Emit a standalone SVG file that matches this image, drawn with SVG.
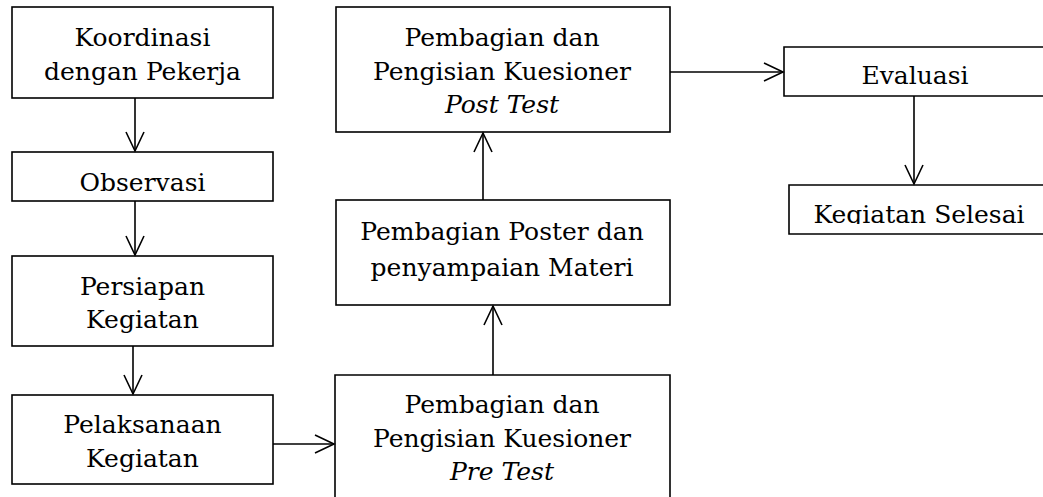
<svg xmlns="http://www.w3.org/2000/svg" width="1043" height="497" viewBox="0 0 1043 497">
<style>
.b{fill:#fff;stroke:#000;stroke-width:1.6}
.t{font-family:"DejaVu Serif","Liberation Serif",serif;font-size:25px;fill:#000;text-anchor:middle}
.i{font-style:italic}
.c line{stroke:#000;stroke-width:1.6}
.c polyline{fill:none;stroke:#000;stroke-width:1.6}
</style>
<defs>
<clipPath id="clipSel"><rect x="780" y="180" width="270" height="44"/></clipPath>
</defs>
<rect width="1043" height="497" fill="#fff"/>
<g id="n1"><rect class="b" x="12" y="7" width="261" height="91"/>
<text class="t" x="142.5" y="46">Koordinasi</text><text class="t" x="142.5" y="80">dengan Pekerja</text></g>
<g id="n2"><rect class="b" x="12" y="152" width="261" height="49"/>
<text class="t" x="142.5" y="191">Observasi</text></g>
<g id="n3"><rect class="b" x="12" y="256" width="261" height="90"/>
<text class="t" x="142.5" y="295">Persiapan</text><text class="t" x="142.5" y="328">Kegiatan</text></g>
<g id="n4"><rect class="b" x="12" y="395" width="261" height="89"/>
<text class="t" x="142.5" y="433">Pelaksanaan</text><text class="t" x="142.5" y="467">Kegiatan</text></g>
<g id="n5"><path class="b" d="M335 500 V375 H670 V500"/>
<text class="t" x="502" y="413">Pembagian dan</text><text class="t" x="502" y="447">Pengisian Kuesioner</text><text class="t i" x="502" y="480">Pre Test</text></g>
<g id="n6"><rect class="b" x="336" y="200" width="334" height="105"/>
<text class="t" x="502" y="240">Pembagian Poster dan</text><text class="t" x="502" y="276">penyampaian Materi</text></g>
<g id="n7"><rect class="b" x="336" y="7" width="334" height="125"/>
<text class="t" x="502" y="46">Pembagian dan</text><text class="t" x="502" y="80">Pengisian Kuesioner</text><text class="t i" x="502" y="113">Post Test</text></g>
<g id="n8"><path class="b" d="M1050 47 H784 V96 H1050"/>
<text class="t" x="915" y="84">Evaluasi</text></g>
<g id="n9"><path class="b" d="M1050 185 H789 V234 H1050"/>
<text class="t" x="919" y="223" clip-path="url(#clipSel)">Kegiatan Selesai</text></g>
<g id="connectors" class="c">
<line x1="135" y1="98" x2="135" y2="151"/><polyline points="126,132 135,151 144,132"/>
<line x1="135" y1="201" x2="135" y2="255"/><polyline points="126,236 135,255 144,236"/>
<line x1="133" y1="346" x2="133" y2="394"/><polyline points="124,375 133,394 142,375"/>
<line x1="273" y1="444" x2="334" y2="444"/><polyline points="315,435 334,444 315,453"/>
<line x1="493" y1="375" x2="493" y2="306"/><polyline points="484,325 493,306 502,325"/>
<line x1="483" y1="200" x2="483" y2="133"/><polyline points="474,152 483,133 492,152"/>
<line x1="670" y1="72" x2="783" y2="72"/><polyline points="764,63 783,72 764,81"/>
<line x1="914" y1="96" x2="914" y2="184"/><polyline points="905,165 914,184 923,165"/>
</g>
</svg>
